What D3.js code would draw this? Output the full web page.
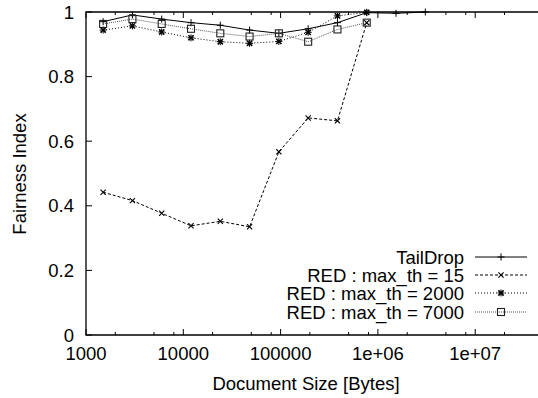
<!DOCTYPE html>
<html>
<head>
<meta charset="utf-8">
<script src="https://cdn.jsdelivr.net/npm/d3@7"></script>
<style>
  body { margin: 0; background: #fff; }
  svg { display: block; font-family: "Liberation Sans", Arial, sans-serif; }
</style>
</head>
<body>
<svg id="chart" width="538" height="398"></svg>
<script>
// document sizes in bytes
var sizes = [1500, 3000, 6000, 12000, 24000, 48000, 96000, 192000, 384000, 768000, 1536000, 3072000];

var tailDrop = [0.970, 0.991, 0.978, 0.967, 0.959, 0.944, 0.934, 0.948, 0.967, 0.998, 0.996, 1.0];
var red15    = [0.442, 0.416, 0.377, 0.338, 0.352, 0.335, 0.567, 0.672, 0.663, 0.967];
var red2000  = [0.944, 0.957, 0.938, 0.920, 0.908, 0.903, 0.909, 0.937, 0.988, 0.999];
var red7000  = [0.963, 0.978, 0.963, 0.948, 0.934, 0.924, 0.934, 0.908, 0.946, 0.967];

var seriesNames = ["TailDrop", "RED : max_th = 15", "RED : max_th = 2000", "RED : max_th = 7000"];
var xTicks = [1000, 10000, 100000, 1e6, 1e7];
var xTickLabels = ["1000", "10000", "100000", "1e+06", "1e+07"];
var yTicks = [0, 0.2, 0.4, 0.6, 0.8, 1];

var svg = d3.select("#chart");
var mLeft = 86, mRight = 572.5, mTop = 12, mBottom = 335;
var fs = 18.5;

var x = d3.scaleLog().domain([1000, 1e8]).range([mLeft, mRight]);
var y = d3.scaleLinear().domain([0, 1]).range([mBottom, mTop]);

var series = [
  { name: seriesNames[0], values: tailDrop, dash: null, color: "#000", marker: "plus" },
  { name: seriesNames[1], values: red15, dash: "3,2", color: "#000", marker: "cross" },
  { name: seriesNames[2], values: red2000, dash: "1,2", color: "#000", marker: "star" },
  { name: seriesNames[3], values: red7000, dash: "1,1", color: "#555", marker: "square" }
];

// minor ticks at 2,5,8 per decade (as in reference)
var minor = [];
[1000, 10000, 100000, 1e6, 1e7].forEach(function (d) {
  [2, 5, 8].forEach(function (m) { minor.push(d * m); });
});

var g = svg.append("g");

// x ticks bottom and top (inward)
xTicks.concat([1e8]).forEach(function (t) {
  g.append("line").attr("x1", x(t)).attr("x2", x(t)).attr("y1", mBottom).attr("y2", mBottom - 6)
    .attr("stroke", "#000").attr("stroke-width", 1);
  g.append("line").attr("x1", x(t)).attr("x2", x(t)).attr("y1", mTop).attr("y2", mTop + 6)
    .attr("stroke", "#000").attr("stroke-width", 1);
});
minor.forEach(function (t) {
  g.append("line").attr("x1", x(t)).attr("x2", x(t)).attr("y1", mBottom).attr("y2", mBottom - 3)
    .attr("stroke", "#000").attr("stroke-width", 1);
  g.append("line").attr("x1", x(t)).attr("x2", x(t)).attr("y1", mTop).attr("y2", mTop + 3)
    .attr("stroke", "#000").attr("stroke-width", 1);
});
yTicks.forEach(function (t) {
  g.append("line").attr("x1", mLeft).attr("x2", mLeft + 6).attr("y1", y(t)).attr("y2", y(t))
    .attr("stroke", "#000").attr("stroke-width", 1);
});

// border: left, bottom, top
g.append("path")
  .attr("d", "M" + mRight + "," + mTop + "H" + mLeft + "V" + mBottom + "H" + mRight)
  .attr("fill", "none").attr("stroke", "#000").attr("stroke-width", 1.3);

// tick labels
g.selectAll(".xl").data(xTicks).enter().append("text")
  .attr("x", function (d) { return x(d); }).attr("y", 360)
  .attr("text-anchor", "middle").attr("font-size", fs)
  .text(function (d, i) { return xTickLabels[i]; });
g.selectAll(".yl").data(yTicks).enter().append("text")
  .attr("x", 74).attr("y", function (d) { return y(d) + 6.5; })
  .attr("text-anchor", "end").attr("font-size", fs)
  .text(function (d) { return d3.format("")(d); });

// axis titles
svg.append("text").attr("x", 306).attr("y", 390).attr("text-anchor", "middle")
  .attr("font-size", fs).text("Document Size [Bytes]");
svg.append("text").attr("transform", "translate(25.5,174) rotate(-90)")
  .attr("text-anchor", "middle").attr("font-size", fs).text("Fairness Index");

function drawMarker(sel, type, cx, cy, color) {
  var s = 3.5;
  if (type === "plus" || type === "star") {
    sel.append("path").attr("d", "M" + (cx - s) + "," + cy + "h" + 2 * s + "M" + cx + "," + (cy - s) + "v" + 2 * s)
      .attr("stroke", color).attr("stroke-width", 1).attr("fill", "none");
  }
  if (type === "cross" || type === "star") {
    var c = 2.6;
    sel.append("path").attr("d", "M" + (cx - c) + "," + (cy - c) + "l" + 2 * c + "," + 2 * c + "M" + (cx - c) + "," + (cy + c) + "l" + 2 * c + "," + (-2 * c))
      .attr("stroke", color).attr("stroke-width", type === "star" ? 1.6 : 1.1).attr("fill", "none");
  }
  if (type === "square") {
    sel.append("rect").attr("x", cx - 3.5).attr("y", cy - 3.5).attr("width", 7).attr("height", 7)
      .attr("stroke", "#222").attr("stroke-width", 1.1).attr("fill", "none");
  }
}

var line = d3.line()
  .x(function (d) { return x(d[0]); })
  .y(function (d) { return y(d[1]); });

series.forEach(function (s) {
  var pts = s.values.map(function (v, i) { return [sizes[i], v]; });
  g.append("path").datum(pts).attr("d", line)
    .attr("fill", "none").attr("stroke", s.color).attr("stroke-width", 1)
    .attr("stroke-dasharray", s.dash);
  pts.forEach(function (p) { drawMarker(g, s.marker, x(p[0]), y(p[1]), s.color); });
});

// legend
var legY = [257, 275, 293, 312];
series.forEach(function (s, i) {
  svg.append("text").attr("x", 464).attr("y", legY[i] + 6.5).attr("text-anchor", "end")
    .attr("font-size", fs).text(s.name);
  svg.append("line").attr("x1", 475).attr("x2", 527).attr("y1", legY[i]).attr("y2", legY[i])
    .attr("stroke", s.color).attr("stroke-width", 1).attr("stroke-dasharray", s.dash);
  drawMarker(svg, s.marker, 501, legY[i], s.color);
});
</script>
</body>
</html>
